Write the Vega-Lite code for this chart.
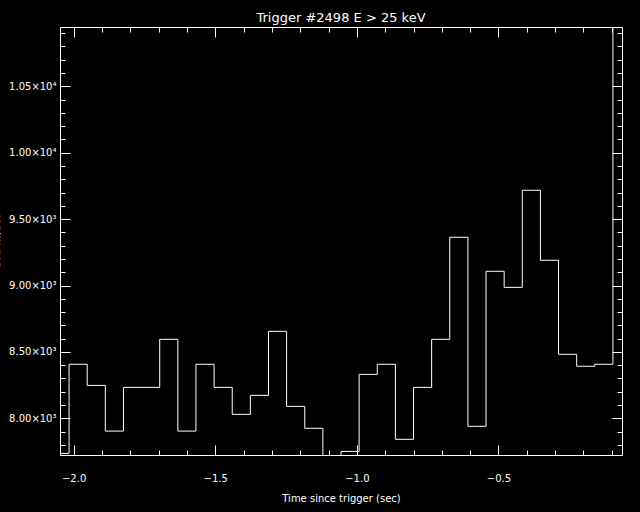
{
  "$schema": "https://vega.github.io/schema/vega-lite/v6.json",
  "width": 562,
  "height": 428,
  "autosize": "none",
  "padding": {"left": 60, "top": 27, "right": 18, "bottom": 57},
  "background": "black",
  "title": {"text": "Trigger #2498 E > 25 keV", "color": "white", "font": "DejaVu Sans", "fontSize": 13, "fontWeight": "normal", "anchor": "middle", "offset": 2},
  "data": {"values": [
    {"t": -2.048, "rate": 7736},
    {"t": -1.984, "rate": 8407},
    {"t": -1.920, "rate": 8248},
    {"t": -1.856, "rate": 7904},
    {"t": -1.792, "rate": 8233},
    {"t": -1.728, "rate": 8233},
    {"t": -1.664, "rate": 8595},
    {"t": -1.600, "rate": 7904},
    {"t": -1.536, "rate": 8407},
    {"t": -1.472, "rate": 8233},
    {"t": -1.408, "rate": 8030},
    {"t": -1.344, "rate": 8173},
    {"t": -1.280, "rate": 8655},
    {"t": -1.216, "rate": 8090},
    {"t": -1.152, "rate": 7925},
    {"t": -1.088, "rate": 7700},
    {"t": -1.024, "rate": 7751},
    {"t": -0.960, "rate": 8331},
    {"t": -0.896, "rate": 8407},
    {"t": -0.832, "rate": 7842},
    {"t": -0.768, "rate": 8233},
    {"t": -0.704, "rate": 8595},
    {"t": -0.640, "rate": 9363},
    {"t": -0.576, "rate": 7940},
    {"t": -0.512, "rate": 9107},
    {"t": -0.448, "rate": 8986},
    {"t": -0.384, "rate": 9717},
    {"t": -0.320, "rate": 9190},
    {"t": -0.256, "rate": 8482},
    {"t": -0.192, "rate": 8392},
    {"t": -0.128, "rate": 8407},
    {"t": -0.064, "rate": 11200}
  ]},
  "layer": [
    {
      "mark": {"type": "line", "interpolate": "step", "color": "white", "strokeWidth": 1, "clip": true},
      "encoding": {
        "x": {"field": "t", "type": "quantitative", "scale": {"domain": [-2.048, -0.064], "nice": false, "zero": false},
              "axis": {"orient": "bottom", "values": [-2.0, -1.5, -1.0, -0.5], "format": ".1f", "ticks": false, "domain": true, "labelPadding": 18, "labelFlush": false, "title": "Time since trigger (sec)", "titlePadding": 10}},
        "y": {"field": "rate", "type": "quantitative", "scale": {"domain": [7724, 10946], "nice": false, "zero": false},
              "axis": {"orient": "left", "values": [8000, 8500, 9000, 9500, 10000, 10500], "ticks": false, "domain": true, "labelPadding": 4, "labelFlush": false,
                       "labelExpr": "datum.value >= 10000 ? format(datum.value/10000, '.2f') + '×10⁴' : format(datum.value/1000, '.2f') + '×10³'",
                       "title": "Counts/sec", "titleX": -61, "titleY": 214, "titleAngle": -90, "titleAlign": "center", "titleBaseline": "alphabetic"}}
      }
    },
    {
      "mark": {"type": "line", "opacity": 0, "clip": true},
      "encoding": {
        "x": {"field": "t", "type": "quantitative", "scale": {"domain": [-2.048, -0.064], "nice": false, "zero": false},
              "axis": {"orient": "bottom", "values": [-2.0, -1.5, -1.0, -0.5], "tickSize": -10, "labels": false, "domain": false, "title": null}},
        "y": {"field": "rate", "type": "quantitative", "scale": {"domain": [7724, 10946], "nice": false, "zero": false},
              "axis": {"orient": "left", "values": [8000, 8500, 9000, 9500, 10000, 10500], "tickSize": -10, "labels": false, "domain": false, "title": null}}
      }
    },
    {
      "mark": {"type": "line", "opacity": 0, "clip": true},
      "encoding": {
        "x": {"field": "t", "type": "quantitative", "scale": {"domain": [-2.048, -0.064], "nice": false, "zero": false},
              "axis": {"orient": "bottom", "values": [-1.9, -1.8, -1.7, -1.6, -1.4, -1.3, -1.2, -1.1, -0.9, -0.8, -0.7, -0.6, -0.4, -0.3, -0.2, -0.1], "tickSize": -5, "labels": false, "domain": false, "title": null}},
        "y": {"field": "rate", "type": "quantitative", "scale": {"domain": [7724, 10946], "nice": false, "zero": false},
              "axis": {"orient": "left", "values": [7800, 7900, 8100, 8200, 8300, 8400, 8600, 8700, 8800, 8900, 9100, 9200, 9300, 9400, 9600, 9700, 9800, 9900, 10100, 10200, 10300, 10400, 10600, 10700, 10800, 10900], "tickSize": -5, "labels": false, "domain": false, "title": null}}
      }
    },
    {
      "mark": {"type": "line", "opacity": 0, "clip": true},
      "encoding": {
        "x": {"field": "t", "type": "quantitative", "scale": {"domain": [-2.048, -0.064], "nice": false, "zero": false},
              "axis": {"orient": "top", "values": [-2.0, -1.5, -1.0, -0.5], "tickSize": -10, "labels": false, "domain": true, "title": null}},
        "y": {"field": "rate", "type": "quantitative", "scale": {"domain": [7724, 10946], "nice": false, "zero": false},
              "axis": {"orient": "right", "values": [8000, 8500, 9000, 9500, 10000, 10500], "tickSize": -10, "labels": false, "domain": true, "title": null}}
      }
    },
    {
      "mark": {"type": "line", "opacity": 0, "clip": true},
      "encoding": {
        "x": {"field": "t", "type": "quantitative", "scale": {"domain": [-2.048, -0.064], "nice": false, "zero": false},
              "axis": {"orient": "top", "values": [-1.9, -1.8, -1.7, -1.6, -1.4, -1.3, -1.2, -1.1, -0.9, -0.8, -0.7, -0.6, -0.4, -0.3, -0.2, -0.1], "tickSize": -5, "labels": false, "domain": false, "title": null}},
        "y": {"field": "rate", "type": "quantitative", "scale": {"domain": [7724, 10946], "nice": false, "zero": false},
              "axis": {"orient": "right", "values": [7800, 7900, 8100, 8200, 8300, 8400, 8600, 8700, 8800, 8900, 9100, 9200, 9300, 9400, 9600, 9700, 9800, 9900, 10100, 10200, 10300, 10400, 10600, 10700, 10800, 10900], "tickSize": -5, "labels": false, "domain": false, "title": null}}
      }
    }
  ],
  "resolve": {"axis": {"x": "independent", "y": "independent"}},
  "config": {
    "view": {"stroke": null},
    "axis": {
      "grid": false,
      "labelFont": "DejaVu Sans", "titleFont": "DejaVu Sans",
      "labelFontSize": 10, "titleFontSize": 10, "titleFontWeight": "normal",
      "labelColor": "white", "titleColor": "white",
      "tickColor": "white", "domainColor": "white",
      "tickWidth": 1, "domainWidth": 1
    }
  }
}
